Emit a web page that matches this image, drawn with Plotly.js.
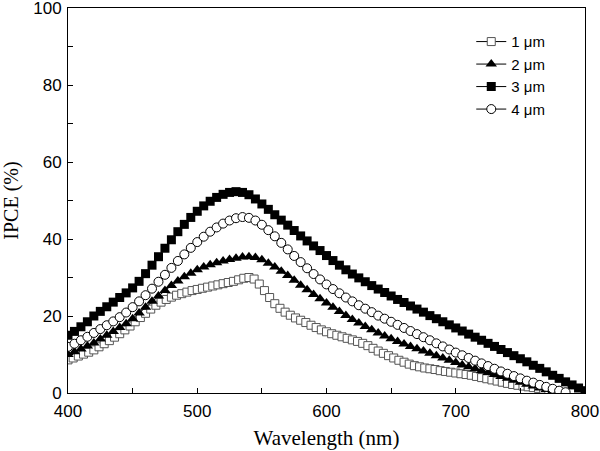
<!DOCTYPE html>
<html>
<head>
<meta charset="utf-8">
<script src="https://cdn.plot.ly/plotly-3.0.1.min.js"></script>
<style>html,body{margin:0;padding:0;background:#fff}#chart{width:600px;height:451px}</style>
</head>
<body>
<div id="chart"></div>
<script>
// Wavelength grids (nm): start and step for each series
var start1 = 400, step1 = 4;   // 1 um (open squares)
var start2 = 400, step2 = 5;   // 2 um (triangles)
var start3 = 400, step3 = 5;   // 3 um (filled squares)
var start4 = 400, step4 = 5;   // 4 um (open circles)

var seriesNames = ["1 \u03bcm", "2 \u03bcm", "3 \u03bcm", "4 \u03bcm"];

var ipce1 = [8.6,9.1,9.6,10.1,10.6,11.2,12.0,12.8,13.6,14.5,15.4,16.4,17.4,18.5,19.6,20.7,21.8,22.8,23.6,24.3,
24.9,25.4,25.8,26.2,26.6,26.9,27.2,27.5,27.8,28.1,28.4,28.7,29.0,29.4,29.8,30.0,29.6,28.3,26.6,24.8,
23.2,22.0,21.0,20.2,19.5,18.9,18.3,17.6,17.0,16.4,15.9,15.4,15.0,14.6,14.2,13.8,13.4,12.9,12.3,11.6,
10.9,10.3,9.7,9.1,8.5,8.0,7.5,7.1,6.8,6.5,6.3,6.1,5.8,5.6,5.4,5.2,5.0,4.8,4.6,4.3,
4.0,3.7,3.4,3.1,2.8,2.5,2.2,2.0,1.8,1.6,1.4,1.2,1.0,0.8,0.5,0.3];

var ipce2 = [10.0,10.7,11.4,12.2,13.0,14.0,15.0,16.0,17.0,18.0,19.3,20.8,22.3,23.8,25.2,26.6,27.9,29.1,30.2,31.1,
32.0,32.7,33.3,33.8,34.3,34.7,35.0,35.3,35.4,35.2,34.6,33.7,32.7,31.6,30.5,29.3,28.0,26.8,25.6,24.5,
23.4,22.3,21.2,20.1,19.1,18.2,17.3,16.4,15.6,14.8,14.1,13.4,12.7,12.1,11.5,10.9,10.3,9.7,9.1,8.5,
7.9,7.3,6.8,6.3,5.8,5.3,4.8,4.3,3.8,3.3,2.8,2.3,1.8,1.3,0.9,0.5,0.2];

var ipce3 = [15.0,16.0,17.2,18.5,20.0,21.2,22.4,23.6,24.8,26.0,27.3,29.0,31.0,33.2,35.4,37.6,39.8,41.9,43.8,45.6,
47.2,48.6,49.8,50.8,51.6,52.1,52.3,52.1,51.5,50.4,49.1,47.7,46.3,44.9,43.6,42.2,40.8,39.5,38.2,37.0,
35.7,34.4,33.2,32.0,30.9,29.9,28.9,27.9,27.0,26.1,25.2,24.3,23.5,22.6,21.8,21.0,20.1,19.3,18.5,17.7,
16.9,16.1,15.3,14.5,13.7,12.9,12.1,11.3,10.5,9.7,8.9,8.1,7.2,6.4,5.5,4.6,3.8,2.9,2.1,1.3,0.6];

var ipce4 = [12.0,12.8,13.7,14.6,15.6,16.6,17.6,18.6,19.7,20.9,22.3,23.8,25.4,27.1,28.9,30.7,32.5,34.3,36.0,37.7,
39.2,40.6,41.9,43.0,44.0,44.8,45.4,45.7,45.5,44.8,43.7,42.3,40.7,39.0,37.3,35.6,34.0,32.4,30.9,29.5,
28.2,27.0,25.9,24.8,23.8,22.8,21.9,21.0,20.1,19.3,18.5,17.7,16.9,16.1,15.3,14.5,13.7,12.9,12.1,11.3,
10.5,9.8,9.1,8.4,7.7,7.0,6.3,5.6,5.0,4.4,3.8,3.2,2.7,2.1,1.6,1.1,0.6,0.2];

var xTickVals = [400, 500, 600, 700, 800];
var yTickVals = [0, 20, 40, 60, 80, 100];

function grid(start, step, n) {
  var out = [];
  for (var i = 0; i < n; i++) out.push(start + i * step);
  return out;
}

var wl1 = grid(start1, step1, ipce1.length);
var wl2 = grid(start2, step2, ipce2.length);
var wl3 = grid(start3, step3, ipce3.length);
var wl4 = grid(start4, step4, ipce4.length);

var traces = [
  {x: wl1, y: ipce1, name: seriesNames[0], mode: 'lines+markers', type: 'scatter',
   line: {color: '#000', width: 1},
   marker: {symbol: 'square', size: 8, color: '#fff', line: {color: '#555', width: 1}}},
  {x: wl2, y: ipce2, name: seriesNames[1], mode: 'lines+markers', type: 'scatter',
   line: {color: '#000', width: 1},
   marker: {symbol: 'triangle-up', size: 10, color: '#000', line: {color: '#000', width: 0}}},
  {x: wl3, y: ipce3, name: seriesNames[2], mode: 'lines+markers', type: 'scatter',
   line: {color: '#000', width: 1},
   marker: {symbol: 'square', size: 9, color: '#000', line: {color: '#000', width: 0}}},
  {x: wl4, y: ipce4, name: seriesNames[3], mode: 'lines+markers', type: 'scatter',
   line: {color: '#000', width: 1},
   marker: {symbol: 'circle', size: 9, color: '#fff', line: {color: '#000', width: 1}}}
];

var tickFont = {family: 'Liberation Sans, Arial, sans-serif', size: 17, color: '#000'};

var layout = {
  width: 600, height: 451,
  margin: {l: 68, r: 15, t: 8, b: 58},
  paper_bgcolor: '#fff', plot_bgcolor: '#fff',
  showlegend: true,
  legend: {x: 0.78, y: 0.955, xanchor: 'left', yanchor: 'top',
           font: {family: 'Liberation Sans, Arial, sans-serif', size: 15, color: '#000'},
           bgcolor: 'rgba(0,0,0,0)', borderwidth: 0, tracegroupgap: 0},
  xaxis: {
    range: [400, 800], tickvals: xTickVals, ticktext: xTickVals.map(String),
    ticks: 'inside', ticklen: 5, tickwidth: 1, tickcolor: '#000', ticklabelstandoff: 3,
    minor: {dtick: 50, tick0: 400, ticks: 'inside', ticklen: 5, tickwidth: 1, tickcolor: '#000', showgrid: false},
    showline: true, linecolor: '#000', linewidth: 1, mirror: true,
    showgrid: false, zeroline: false, tickfont: tickFont, ticklabeloverflow: 'allow',
    title: {text: 'Wavelength (nm)', font: {family: 'Liberation Serif, Times New Roman, serif', size: 21, color: '#000'}, standoff: 9}
  },
  yaxis: {
    range: [0, 100], tickvals: yTickVals, ticktext: yTickVals.map(String),
    ticks: 'inside', ticklen: 5, tickwidth: 1, tickcolor: '#000', ticklabelstandoff: 2,
    minor: {dtick: 10, tick0: 0, ticks: 'inside', ticklen: 5, tickwidth: 1, tickcolor: '#000', showgrid: false},
    showline: true, linecolor: '#000', linewidth: 1, mirror: true,
    showgrid: false, zeroline: false, tickfont: tickFont, ticklabeloverflow: 'allow',
    title: {text: 'IPCE (%)', font: {family: 'Liberation Serif, Times New Roman, serif', size: 20, color: '#000'}, standoff: 12}
  }
};

Plotly.newPlot('chart', traces, layout, {displayModeBar: false, staticPlot: true});
</script>
</body>
</html>
